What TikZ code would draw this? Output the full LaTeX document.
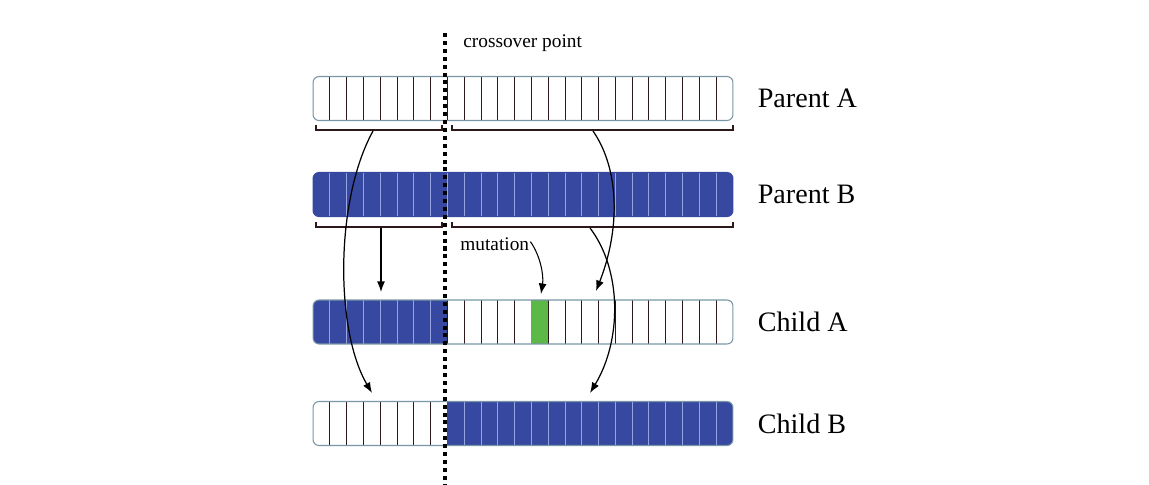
\documentclass[tikz,border=0pt]{standalone}
\usepackage{fontspec}
\setmainfont{Liberation Serif}
\usetikzlibrary{arrows.meta, calc, positioning}

\definecolor{geneblue}{RGB}{55,72,160}
\definecolor{genegreen}{RGB}{92,184,71}
\definecolor{seplightc}{RGB}{150,165,225}
\definecolor{sepdarkc}{RGB}{45,25,25}
\definecolor{rim}{RGB}{120,150,165}

\tikzset{
  chromo/.style={draw=rim, line width=0.6pt, rounded corners=0.12cm,
    minimum width=8.4cm, minimum height=0.88cm, inner sep=0pt},
  sepdark/.style={draw=sepdarkc, line width=0.55pt},
  seplight/.style={draw=seplightc, line width=0.55pt},
  bracket/.style={draw=sepdarkc, line width=0.6pt},
  genes/.style n args={3}{path picture={
    \coordinate (o) at (path picture bounding box.south west);
    \foreach \k in {1,...,24}
      \draw[sepdark] ($(o)+(\k*0.336cm,0cm)$) -- ++(0cm,0.88cm);
    \fill[geneblue, sharp corners] ($(o)+(#1*0.336cm,0cm)$) rectangle ($(o)+(#2*0.336cm,0.88cm)$);
    \ifnum#3>-1
      \fill[genegreen, sharp corners] ($(o)+(#3*0.336cm,0cm)$) rectangle ++(0.336cm,0.88cm);
    \fi
    \foreach \k in {1,...,24}{
      \pgfmathparse{(\k>#1)&&(\k<#2)}
      \ifdim\pgfmathresult pt>0pt
        \draw[seplight] ($(o)+(\k*0.336cm,0cm)$) -- ++(0cm,0.88cm);
      \fi}
  }},
  tag/.style={right=0.48cm of #1, inner sep=0pt, font=\fontsize{16}{19}\selectfont},
  note/.style={inner sep=0pt, anchor=base west, font=\fontsize{11}{13}\selectfont},
  link/.style={-{Latex[length=6pt, width=4.5pt]}, draw=black, line width=0.7pt},
}

\begin{document}
\begin{tikzpicture}[x=0.02cm, y=-0.02cm]
  \useasboundingbox (0,0) rectangle (1149,484);

  % chromosomes
  \node[chromo, genes={0}{0}{-1}] (pa) at (523,98.5) {};
  \node[chromo, draw=geneblue, genes={0}{25}{-1}] (pb) at (523,194.5) {};
  \node[chromo, genes={0}{8}{13}] (ca) at (523,322) {};
  \node[chromo, genes={8}{25}{-1}] (cb) at (523,423.5) {};

  \node[tag=pa] (lpa) {Parent A};
  \node[tag=pb] (lpb) {Parent B};
  \node[tag=ca] (lca) {Child A};
  \node[tag=cb] (lcb) {Child B};

  % crossover line
  \coordinate (xtop) at (445,33);
  \coordinate (xbot) at (445,484);
  \draw[line width=2.2pt, dash pattern=on 2.3pt off 2.2pt] (xtop) -- (xbot);
  \node[note] (xlabel) at (463,47) {crossover point};

  % brackets
  \draw[bracket] (316,125) -- (316,130) -- (442,130) -- (442,125);
  \draw[bracket] (452,125) -- (452,130) -- (733,130) -- (733,125);
  \draw[bracket] (316,222) -- (316,227) -- (442,227) -- (442,222);
  \draw[bracket] (452,222) -- (452,227) -- (733,227) -- (733,222);

  \coordinate (aleft) at (373,131);
  \coordinate (aright) at (593,131);
  \coordinate (bleft) at (381,228);
  \coordinate (bright) at (590,228);
  \coordinate (tocb1) at (372,393);
  \coordinate (toca2) at (596,291);
  \coordinate (toca1) at (381,292);
  \coordinate (tocb2) at (590,393);
  \coordinate (tomut) at (541,294);

  \draw[link] (aleft) .. controls (335,200) and (335,330) .. (tocb1);
  \draw[link] (aright) .. controls (620,170) and (620,230) .. (toca2);
  \draw[link] (bleft) -- (toca1);
  \draw[link] (bright) .. controls (622,270) and (622,340) .. (tocb2);

  % mutation
  \node[note] (mut) at (460,250) {mutation};
  \draw[link, line width=0.6pt] ($(mut.east)+(1,-2)$) .. controls (540,255) and (544,275) .. (tomut);
\end{tikzpicture}
\end{document}
